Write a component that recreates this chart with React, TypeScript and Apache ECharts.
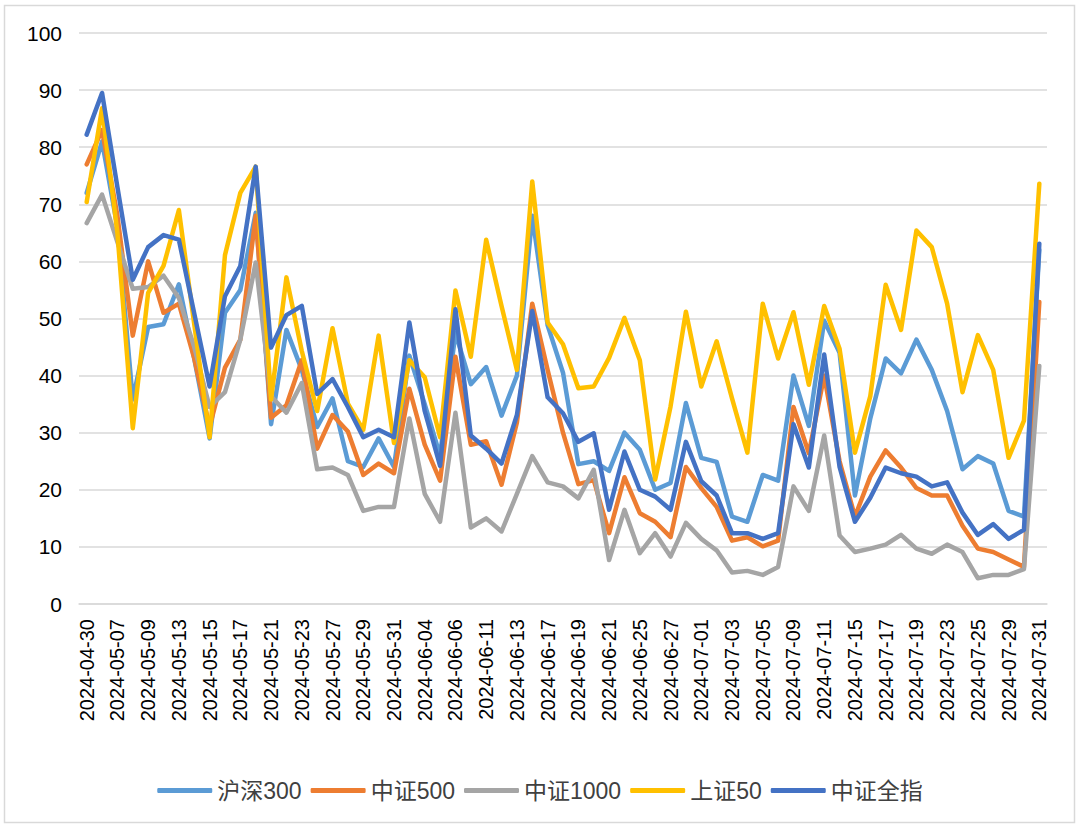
import React, { useEffect, useRef } from "react";
import * as echarts from "echarts";

const dates: string[] = [
  "2024-04-30", "2024-05-06", "2024-05-07", "2024-05-08", "2024-05-09", "2024-05-10",
  "2024-05-13", "2024-05-14", "2024-05-15", "2024-05-16", "2024-05-17",
  "2024-05-20", "2024-05-21", "2024-05-22", "2024-05-23", "2024-05-24",
  "2024-05-27", "2024-05-28", "2024-05-29", "2024-05-30", "2024-05-31",
  "2024-06-03", "2024-06-04", "2024-06-05", "2024-06-06", "2024-06-07",
  "2024-06-11", "2024-06-12", "2024-06-13", "2024-06-14",
  "2024-06-17", "2024-06-18", "2024-06-19", "2024-06-20", "2024-06-21",
  "2024-06-24", "2024-06-25", "2024-06-26", "2024-06-27", "2024-06-28",
  "2024-07-01", "2024-07-02", "2024-07-03", "2024-07-04", "2024-07-05",
  "2024-07-08", "2024-07-09", "2024-07-10", "2024-07-11", "2024-07-12",
  "2024-07-15", "2024-07-16", "2024-07-17", "2024-07-18", "2024-07-19",
  "2024-07-22", "2024-07-23", "2024-07-24", "2024-07-25", "2024-07-26",
  "2024-07-29", "2024-07-30", "2024-07-31",
];

const hs300: number[] = [
  72, 81, 66, 35.8, 48.5, 49, 56, 43, 29, 51, 55,
  68.5, 31.5, 48, 41, 31, 36, 25, 24, 29, 24,
  43.5, 35, 26, 47.5, 38.5, 41.5, 33, 40, 68,
  48.8, 40.5, 24.5, 25, 23.3, 30, 27, 20, 21.2, 35.2,
  25.6, 24.9, 15.3, 14.4, 22.6, 21.6, 40, 31.2, 49.6, 44,
  19, 32.5, 43, 40.4, 46.3, 41, 33.8, 23.6, 25.9, 24.6,
  16.3, 15.3, 62,
];

const zz500: number[] = [
  77, 83, 68, 47, 60, 51, 52.6, 43, 31, 41.4, 46.3,
  68, 32.6, 34.8, 42.7, 27.2, 33.1, 30.2, 22.6, 24.6, 22.9,
  37.7, 27.9, 21.6, 43.3, 27.9, 28.5, 20.9, 31.8, 52.6,
  41, 30, 21, 21.7, 12.4, 22.2, 15.9, 14.4, 11.7, 24,
  20.3, 17, 11.1, 11.7, 10.1, 11.1, 34.5, 26.4, 40, 25,
  15.3, 22.3, 26.9, 23.9, 20.3, 19, 19, 13.7, 9.7, 9.1,
  7.8, 6.5, 52.9,
];

const zz1000: number[] = [
  66.7, 71.7, 63.4, 55.2, 55.5, 57.5, 53.6, 45, 34.5, 37.1, 46.3,
  59.8, 36.4, 33.5, 38.7, 23.6, 23.9, 22.6, 16.3, 17, 17,
  32.5, 19.3, 14.4, 33.5, 13.4, 15, 12.7, 19.3, 25.9,
  21.3, 20.6, 18.5, 23.5, 7.7, 16.5, 8.9, 12.4, 8.3, 14.2,
  11.4, 9.4, 5.5, 5.8, 5.1, 6.5, 20.6, 16.3, 29.5, 12,
  9.1, 9.7, 10.4, 12.1, 9.7, 8.8, 10.4, 9.1, 4.5, 5.1,
  5.1, 6.1, 41.7,
];

const sz50: number[] = [
  70.4, 86.8, 65, 30.8, 54.5, 59.2, 69, 49, 29.2, 61.1, 72,
  76.6, 35.8, 57.2, 44.3, 33.8, 48.3, 35.1, 30.5, 47, 28.2,
  42.7, 39.7, 29.2, 54.9, 43.3, 63.8, 52.2, 41, 74,
  49.3, 45.5, 37.8, 38.1, 43.1, 50.1, 42.7, 21.8, 34.6, 51.2,
  38.1, 46, 36, 26.5, 52.6, 43, 51.1, 38.4, 52.2, 44.7,
  26.5, 36.4, 55.9, 48, 65.4, 62.5, 52.6, 37.1, 47.1, 41,
  25.6, 32.1, 73.6,
];

const zzqz: number[] = [
  82.2, 89.5, 73, 56.8, 62.5, 64.6, 63.8, 50.9, 38.1, 53.9, 59.2,
  76.6, 44.9, 50.6, 52.2, 36.8, 39.4, 34.5, 29.2, 30.5, 29.2,
  49.3, 33.8, 24.2, 51.6, 29.5, 27.2, 24.6, 33.1, 51.3,
  36.2, 33.4, 28.4, 29.9, 16.5, 26.7, 20, 18.8, 16.5, 28.4,
  21.5, 19, 12.4, 12.4, 11.4, 12.4, 31.5, 23.9, 43.7, 24,
  14.4, 18.6, 23.9, 22.9, 22.3, 20.6, 21.3, 16, 12.1, 14,
  11.4, 13, 63.1,
];

const seriesNames = ["沪深300", "中证500", "中证1000", "上证50", "中证全指"];
const seriesColors = ["#5B9BD5", "#ED7D31", "#A5A5A5", "#FFC000", "#4472C4"];
const seriesData = [hs300, zz500, zz1000, sz50, zzqz];

const FONT = "'Liberation Sans', 'Noto Sans CJK SC', sans-serif";

export default function App() {
  const ref = useRef<HTMLDivElement>(null);
  useEffect(() => {
    if (!ref.current) return;
    const chart = echarts.init(ref.current, undefined, { renderer: "svg" });
    chart.setOption({
      animation: false,
      backgroundColor: "#ffffff",
      graphic: [
        {
          type: "rect",
          shape: { x: 4.5, y: 5.5, width: 1070, height: 817 },
          style: { fill: "none", stroke: "#D9D9D9", lineWidth: 1.5 },
          silent: true,
        },
      ],
      grid: { left: 79, right: 33, top: 33, bottom: 225, containLabel: false },
      legend: {
        data: seriesNames,
        left: "center",
        top: 774,
        icon: "roundRect",
        itemWidth: 55,
        itemHeight: 5,
        itemGap: 9,
        textStyle: { fontSize: 23, color: "#404040", fontFamily: FONT },
      },
      xAxis: {
        type: "category",
        data: dates,
        boundaryGap: true,
        axisLine: { show: true, lineStyle: { color: "#D9D9D9", width: 1.5 } },
        axisTick: { show: false },
        axisLabel: {
          interval: 1,
          rotate: 90,
          margin: 15,
          fontSize: 20,
          color: "#000000",
          fontFamily: FONT,
        },
      },
      yAxis: {
        type: "value",
        min: 0,
        max: 100,
        interval: 10,
        axisLine: { show: false },
        axisTick: { show: false },
        splitLine: { lineStyle: { color: "#D9D9D9", width: 1.5 } },
        axisLabel: { fontSize: 21, color: "#000000", margin: 17, fontFamily: FONT },
      },
      series: seriesNames.map((name, i) => ({
        name,
        type: "line",
        data: seriesData[i],
        symbol: "none",
        showSymbol: false,
        color: seriesColors[i],
        lineStyle: { width: 4.5, color: seriesColors[i], cap: "round", join: "round" },
      })),
    });
    return () => chart.dispose();
  }, []);
  return (
    <div
      ref={ref}
      style={{ position: "fixed", left: 0, top: 0, width: 1080, height: 829, background: "#fff" }}
    />
  );
}
